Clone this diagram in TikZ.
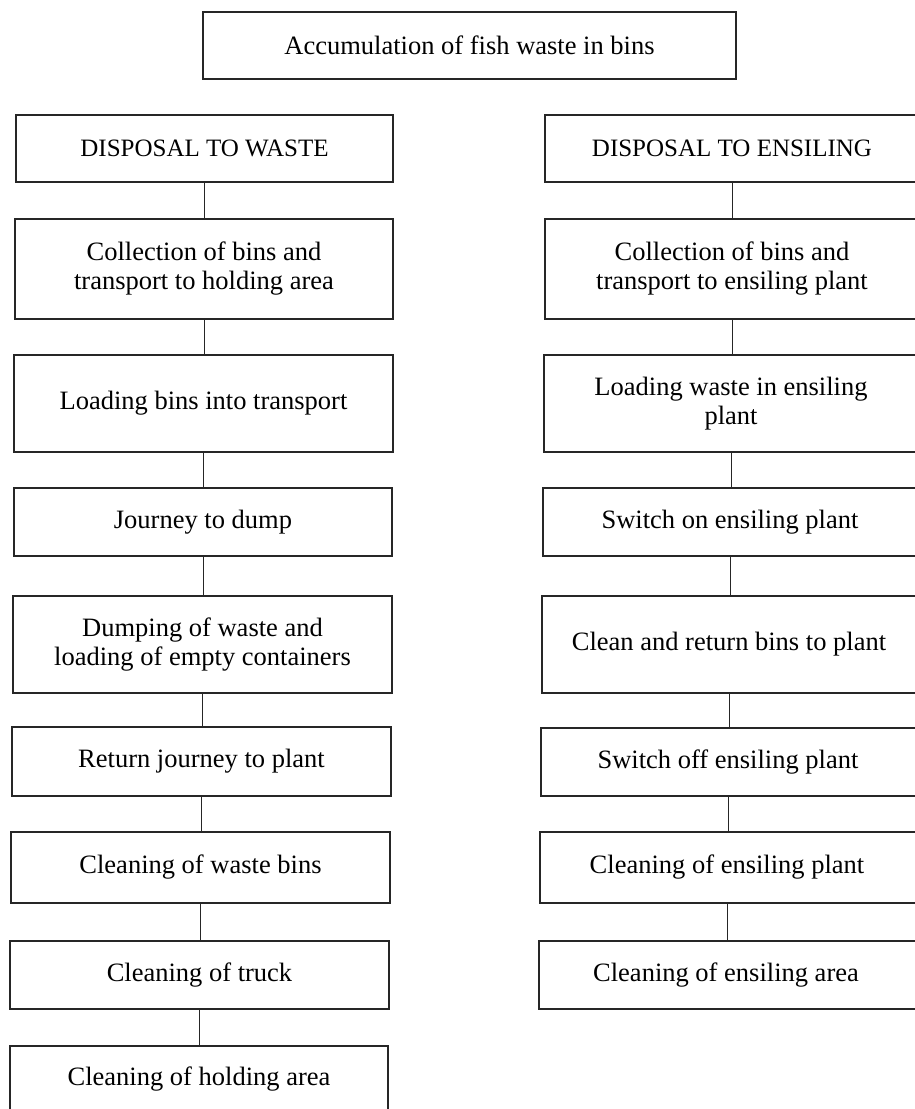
\documentclass[tikz,border=0pt]{standalone}
\usepackage{fontspec}
\setmainfont{Liberation Serif}
\tikzset{
  box/.style={draw=black!85, line width=2pt, inner sep=0pt, align=center,
    font=\fontsize{26.5}{29}\selectfont},
  rbox/.style={box, draw=none, outer sep=0pt, minimum width=374pt},
  rline/.style={draw=black!85, line width=2pt},
  link/.style={draw=black!85, line width=1pt}
}
\begin{document}
\begin{tikzpicture}[x=1pt,y=-1pt]
\useasboundingbox (0,0) rectangle (914,1109);
\node[box, minimum width=533pt, minimum height=67pt] (top) at (469.5,45.5) {Accumulation of fish waste in bins};
% left column
\node[box, minimum width=377pt, minimum height=67pt, font=\fontsize{25}{29}\selectfont] (L1) at (204.5,148.5) {DISPOSAL TO WASTE};
\node[box, minimum width=378pt, minimum height=100pt] (L2) at (204,269) {Collection of bins and\\transport to holding area};
\node[box, minimum width=379pt, minimum height=97pt] (L3) at (203.5,403.5) {Loading bins into transport};
\node[box, minimum width=378pt, minimum height=68pt] (L4) at (203,522) {Journey to dump};
\node[box, minimum width=379pt, minimum height=97pt] (L5) at (202.5,644.5) {Dumping of waste and\\loading of empty containers};
\node[box, minimum width=379pt, minimum height=69pt] (L6) at (201.5,761.5) {Return journey to plant};
\node[box, minimum width=379pt, minimum height=71pt] (L7) at (200.5,867.5) {Cleaning of waste bins};
\node[box, minimum width=379pt, minimum height=68pt] (L8) at (199.5,975) {Cleaning of truck};
\node[box, minimum width=378pt, minimum height=66pt] (L9) at (199,1079) {Cleaning of holding area};
% right column (boxes run past the right edge of the page)
\node[rbox, minimum height=67pt, font=\fontsize{25}{29}\selectfont] (R1) at (732,148.5) {DISPOSAL TO ENSILING};
\node[rbox, minimum height=100pt] (R2) at (732,269) {Collection of bins and\\transport to ensiling plant};
\node[rbox, minimum height=97pt] (R3) at (731,403.5) {Loading waste in ensiling\\plant};
\node[rbox, minimum height=68pt] (R4) at (730,522) {Switch on ensiling plant};
\node[rbox, minimum height=97pt] (R5) at (729,644.5) {Clean and return bins to plant};
\node[rbox, minimum height=68pt] (R6) at (728,762) {Switch off ensiling plant};
\node[rbox, minimum height=71pt] (R7) at (727,867.5) {Cleaning of ensiling plant};
\node[rbox, minimum height=68pt] (R8) at (726,975) {Cleaning of ensiling area};
\foreach \r in {R1,R2,R3,R4,R5,R6,R7,R8}
  \draw[rline] ([xshift=30pt]\r.north east) -- (\r.north west) -- (\r.south west) -- ([xshift=30pt]\r.south east);
% connectors
\foreach \a/\b in {L1/L2,L2/L3,L3/L4,L4/L5,L5/L6,L6/L7,L7/L8,L8/L9}
  \draw[link] (\a.south) -- (\a.south |- \b.north);
\foreach \a/\b in {R1/R2,R2/R3,R3/R4,R4/R5,R5/R6,R6/R7,R7/R8}
  \draw[link] ([yshift=1pt]\a.south) -- ([yshift=-1pt]\a.south |- \b.north);
\end{tikzpicture}
\end{document}
